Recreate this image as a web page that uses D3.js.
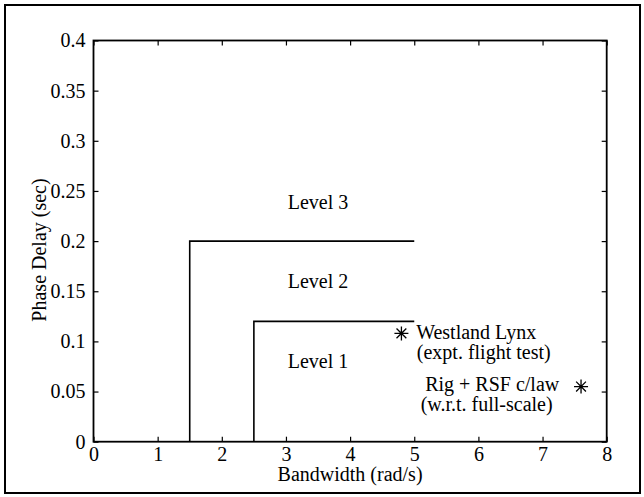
<!DOCTYPE html>
<html>
<head>
<meta charset="utf-8">
<script src="https://cdn.jsdelivr.net/npm/d3@7"></script>
<style>
  body { margin: 0; background: #fff; }
  text { font-family: "Liberation Serif", "DejaVu Serif", serif; fill: #000; }
</style>
</head>
<body>
<div id="graph"></div>
<script>
// tick values
var xTicks = [0, 1, 2, 3, 4, 5, 6, 7, 8]
var yTicks = [0, 0.05, 0.1, 0.15, 0.2, 0.25, 0.3, 0.35, 0.4]
var yTickLabels = ['0', '0.05', '0.1', '0.15', '0.2', '0.25', '0.3', '0.35', '0.4']

// level boundaries (bandwidth, phase delay)
var level2Boundary = [[1.5, 0], [1.5, 0.2], [5, 0.2]]
var level1Boundary = [[2.5, 0], [2.5, 0.12], [5, 0.12]]

// region labels
var levelLabels = ['Level 3', 'Level 2', 'Level 1']
var levelX = [3.5, 3.5, 3.5]
var levelY = [0.232, 0.153, 0.073]

// test points
var pointNames = ['Westland Lynx', 'Rig + RSF c/law']
var pointX = [4.8, 7.6]
var pointY = [0.108, 0.055]

// annotation text lines
var noteText = ['Westland Lynx', '(expt. flight test)', 'Rig + RSF c/law', '(w.r.t. full-scale)']
var noteX = [5.03, 5.04, 5.17, 5.1]
var noteY = [0.102, 0.082, 0.0505, 0.0306]

var width = 644
var height = 497
var margin = { top: 40.5, right: 37.3, bottom: 55.3, left: 93.5 }
var w = width - margin.left - margin.right
var h = height - margin.top - margin.bottom

var svg = d3
  .select('#graph')
  .append('svg')
  .attr('width', width)
  .attr('height', height)

// outer frame
svg
  .append('rect')
  .attr('x', 5)
  .attr('y', 5)
  .attr('width', 635)
  .attr('height', 488)
  .attr('fill', 'none')
  .attr('stroke', '#000')
  .attr('stroke-width', 2)

var g = svg
  .append('g')
  .attr('transform', 'translate(' + margin.left + ',' + margin.top + ')')

var x = d3.scaleLinear().domain([0, 8]).range([0, w])
var y = d3.scaleLinear().domain([0, 0.4]).range([h, 0])

// axes with inward ticks
var axBottom = g
  .append('g')
  .attr('transform', 'translate(0,' + h + ')')
  .call(d3.axisBottom(x).tickValues(xTicks).tickSize(-5).tickPadding(5).tickFormat(d3.format('d')))
var axLeft = g
  .append('g')
  .call(d3.axisLeft(y).tickValues(yTicks).tickSize(-5).tickPadding(8).tickFormat(function(d, i) {
    return yTickLabels[i]
  }))
var axTop = g
  .append('g')
  .call(d3.axisTop(x).tickValues(xTicks).tickSize(-5).tickFormat(''))
var axRight = g
  .append('g')
  .attr('transform', 'translate(' + w + ',0)')
  .call(d3.axisRight(y).tickValues(yTicks).tickSize(-5).tickFormat(''))

;[axBottom, axLeft, axTop, axRight].forEach(function(a) {
  a.select('.domain').remove()
  a.selectAll('line').attr('stroke', '#000').attr('stroke-width', 1.2)
  a.selectAll('text').style('font-size', '20px').style('font-family', '"Liberation Serif", serif')
})
axBottom.selectAll('text').attr('dy', '0.71em')

// box
g.append('rect')
  .attr('width', w)
  .attr('height', h)
  .attr('fill', 'none')
  .attr('stroke', '#000')
  .attr('stroke-width', 1.8)

var line = d3
  .line()
  .x(function(d) { return x(d[0]) })
  .y(function(d) { return y(d[1]) })

;[level2Boundary, level1Boundary].forEach(function(b) {
  g.append('path')
    .attr('d', line(b))
    .attr('fill', 'none')
    .attr('stroke', '#000')
    .attr('stroke-width', 1.6)
})

g.selectAll('.level')
  .data(levelLabels)
  .enter()
  .append('text')
  .attr('x', function(d, i) { return x(levelX[i]) })
  .attr('y', function(d, i) { return y(levelY[i]) })
  .attr('text-anchor', 'middle')
  .style('font-size', '20px')
  .text(function(d) { return d })

// asterisk markers
var r = 7
g.selectAll('.pt')
  .data(pointNames)
  .enter()
  .append('path')
  .attr('transform', function(d, i) {
    return 'translate(' + x(pointX[i]) + ',' + y(pointY[i]) + ')'
  })
  .attr('d', 'M' + -r + ',0H' + r + 'M0,' + -r + 'V' + r +
    'M' + -r * 0.7 + ',' + -r * 0.7 + 'L' + r * 0.7 + ',' + r * 0.7 +
    'M' + -r * 0.7 + ',' + r * 0.7 + 'L' + r * 0.7 + ',' + -r * 0.7)
  .attr('stroke', '#000')
  .attr('stroke-width', 1.3)
  .attr('fill', 'none')

g.selectAll('.note')
  .data(noteText)
  .enter()
  .append('text')
  .attr('x', function(d, i) { return x(noteX[i]) })
  .attr('y', function(d, i) { return y(noteY[i]) })
  .style('font-size', '20px')
  .text(function(d) { return d })

// axis titles
svg
  .append('text')
  .attr('x', margin.left + w / 2)
  .attr('y', 481)
  .attr('text-anchor', 'middle')
  .style('font-size', '20px')
  .text('Bandwidth (rad/s)')

svg
  .append('text')
  .attr('transform', 'translate(46,250) rotate(-90)')
  .attr('text-anchor', 'middle')
  .style('font-size', '20px')
  .text('Phase Delay (sec)')
</script>
</body>
</html>
